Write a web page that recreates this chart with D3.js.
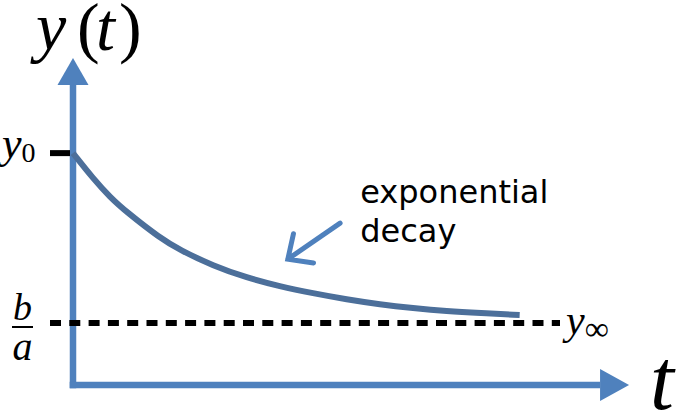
<!DOCTYPE html>
<html>
<head>
<meta charset="utf-8">
<script src="https://cdn.jsdelivr.net/npm/d3@7"></script>
<style>
  html, body { margin: 0; padding: 0; background: #fff; }
  svg { display: block; }
</style>
</head>
<body>
<div id="chart"></div>
<script>
// curve (t in arbitrary time units, y in units of b/a)
const tValues = [0, 0.45, 0.83, 1.2, 1.95, 2.39, 3.14, 3.89, 4.63, 5.37, 6.13, 6.87, 7.61, 8.37, 9.11, 10];
const yValues = [3.74, 3.33, 3.03, 2.79, 2.37, 2.18, 1.92, 1.73, 1.59, 1.48, 1.38, 1.3, 1.24, 1.19, 1.16, 1.13];

// reference levels
const levelNames = ["y0", "yInf"];
const levelValues = [3.74, 1];

// annotation: arrow tail, arrow tip, text lines
const noteTail = [5.98, 2.61];
const noteTip = [4.81, 2.03];
const noteLines = ["exponential", "decay"];
const noteAt = [6.43, 2.94];

// y(t) title glyphs
const titleGlyphs = ["y", "(", "t", ")"];
const titleItalic = [true, false, true, false];
const titleX = [36, 77, 96, 119];

const width = 684,
  height = 412,
  axisColor = "#4f81bd",
  curveColor = "#4c6f9a",
  mathFont = "'Liberation Serif', 'DejaVu Serif', serif";

// scales
const x = d3.scaleLinear().domain([0, 12]).range([73, 609]);
const y = d3.scaleLinear().domain([0, 1]).range([385, 323]);

const tAxisEnd = 11.8;  // where the t axis shaft stops (arrow base)
const yAxisEnd = 4.84;  // where the y axis shaft stops (arrow base)

const svg = d3
  .create("svg")
  .attr("width", width)
  .attr("height", height)
  .attr("viewBox", [0, 0, width, height]);

// axes with arrow heads
svg
  .append("line")
  .attr("x1", x(0))
  .attr("x2", x(0))
  .attr("y1", y(0) + 3.3)
  .attr("y2", y(yAxisEnd))
  .attr("stroke", axisColor)
  .attr("stroke-width", 6.5);

svg
  .append("line")
  .attr("x1", x(0) - 3.3)
  .attr("x2", x(tAxisEnd))
  .attr("y1", y(0))
  .attr("y2", y(0))
  .attr("stroke", axisColor)
  .attr("stroke-width", 6.5);

// y arrow head
svg
  .append("path")
  .attr("fill", axisColor)
  .attr(
    "d",
    d3.line()([
      [x(0) - 15.5, y(yAxisEnd)],
      [x(0), y(yAxisEnd) - 27],
      [x(0) + 15.5, y(yAxisEnd)],
    ]) + "Z"
  );

// t arrow head
svg
  .append("path")
  .attr("fill", axisColor)
  .attr(
    "d",
    d3.line()([
      [x(tAxisEnd), y(0) - 16],
      [x(tAxisEnd) + 29, y(0)],
      [x(tAxisEnd), y(0) + 16],
    ]) + "Z"
  );

// y0 tick
svg
  .append("line")
  .attr("x1", x(0) - 23)
  .attr("x2", x(0) - 3)
  .attr("y1", y(levelValues[0]))
  .attr("y2", y(levelValues[0]))
  .attr("stroke", "black")
  .attr("stroke-width", 6);

// asymptote b/a
svg
  .append("line")
  .attr("x1", x(0) - 23)
  .attr("x2", 560)
  .attr("y1", y(levelValues[1]))
  .attr("y2", y(levelValues[1]))
  .attr("stroke", "black")
  .attr("stroke-width", 6)
  .attr("stroke-dasharray", "11,8.3");

// decay curve
svg
  .append("path")
  .datum(d3.zip(tValues, yValues))
  .attr("fill", "none")
  .attr("stroke", curveColor)
  .attr("stroke-width", 6)
  .attr("stroke-linecap", "butt")
  .attr(
    "d",
    d3
      .line()
      .x((d) => x(d[0]))
      .y((d) => y(d[1]))
      .curve(d3.curveBasis)
  );

// annotation arrow
const tail = [x(noteTail[0]), y(noteTail[1])];
const tip = [x(noteTip[0]), y(noteTip[1])];
const ang = Math.atan2(tail[1] - tip[1], tail[0] - tip[0]);
const barb = 26,
  spread = (43 * Math.PI) / 180;
const b1 = [tip[0] + barb * Math.cos(ang - spread), tip[1] + barb * Math.sin(ang - spread)];
const b2 = [tip[0] + barb * Math.cos(ang + spread), tip[1] + barb * Math.sin(ang + spread)];

svg
  .append("path")
  .attr("fill", "none")
  .attr("stroke", axisColor)
  .attr("stroke-width", 5)
  .attr("stroke-linecap", "round")
  .attr("stroke-linejoin", "miter")
  .attr("d", d3.line()([tail, tip]) + d3.line()([b1, tip, b2]));

svg
  .append("g")
  .selectAll("text")
  .data(noteLines)
  .join("text")
  .attr("x", x(noteAt[0]))
  .attr("y", (d, i) => y(noteAt[1]) + i * 39)
  .attr("font-family", "'DejaVu Sans', sans-serif")
  .attr("font-size", 32)
  .attr("fill", "black")
  .text((d) => d);

// math labels
svg
  .append("g")
  .selectAll("text")
  .data(titleGlyphs)
  .join("text")
  .attr("x", (d, i) => titleX[i])
  .attr("y", 50)
  .attr("font-family", mathFont)
  .attr("font-size", 68)
  .attr("font-style", (d, i) => (titleItalic[i] ? "italic" : "normal"))
  .text((d) => d);

const y0Label = svg
  .append("text")
  .attr("x", 2)
  .attr("y", y(levelValues[0]) + 5)
  .attr("font-family", mathFont)
  .attr("font-size", 44);
y0Label.append("tspan").attr("font-style", "italic").text("y");
y0Label.append("tspan").attr("font-size", 28).attr("dy", 4).text("0");

// b/a fraction
const fracX = 22.5,
  fracY = y(levelValues[1]) + 4;
svg
  .append("line")
  .attr("x1", fracX - 10.5)
  .attr("x2", fracX + 10.5)
  .attr("y1", fracY)
  .attr("y2", fracY)
  .attr("stroke", "black")
  .attr("stroke-width", 2);
svg
  .append("text")
  .attr("x", fracX)
  .attr("y", fracY - 7)
  .attr("text-anchor", "middle")
  .attr("font-family", mathFont)
  .attr("font-style", "italic")
  .attr("font-size", 38)
  .text("b");
svg
  .append("text")
  .attr("x", fracX)
  .attr("y", fracY + 33)
  .attr("text-anchor", "middle")
  .attr("font-family", mathFont)
  .attr("font-style", "italic")
  .attr("font-size", 40)
  .text("a");

const yInfLabel = svg
  .append("text")
  .attr("x", 566)
  .attr("y", y(levelValues[1]) + 11)
  .attr("font-family", mathFont)
  .attr("font-size", 42);
yInfLabel.append("tspan").attr("font-style", "italic").text("y");
yInfLabel.append("tspan").attr("font-size", 34).attr("dy", 6).text("∞");

svg
  .append("text")
  .attr("x", 650)
  .attr("y", 409)
  .attr("font-family", mathFont)
  .attr("font-style", "italic")
  .attr("font-size", 86)
  .text("t");

d3.select("#chart").append(() => svg.node());
</script>
</body>
</html>
